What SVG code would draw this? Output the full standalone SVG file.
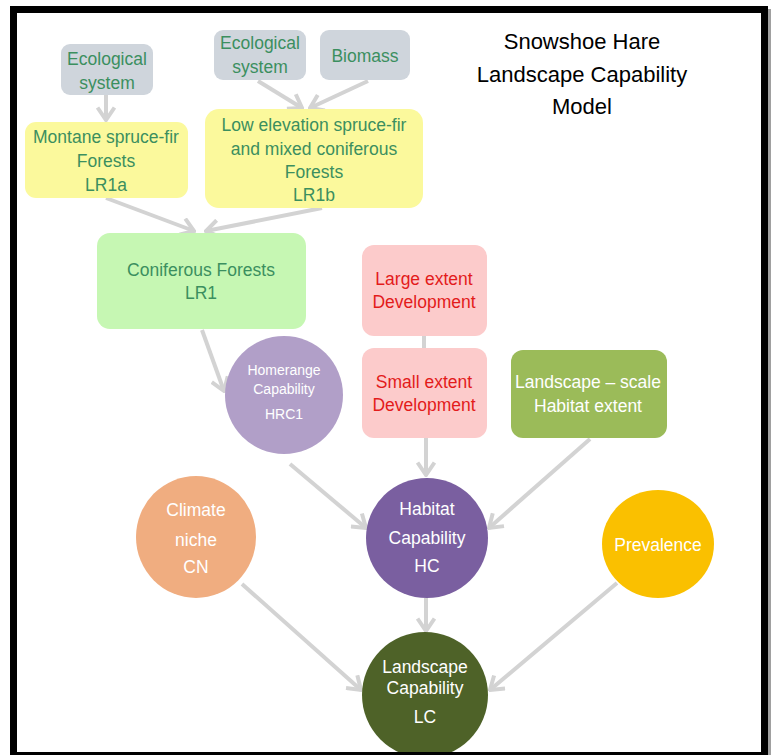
<svg xmlns="http://www.w3.org/2000/svg" width="771" height="755" viewBox="0 0 771 755">
<style>
text{font-family:"Liberation Sans",Arial,sans-serif;text-anchor:middle}
.t{font-size:17.5px}
.g{fill:#3b8f5f}
.r{fill:#e31b1b}
.w{fill:#ffffff}
.title{font-size:22px;fill:#000}
.con line{stroke:#d3d3d3;stroke-width:4;fill:none}
.arr{marker-end:url(#ah)}
</style>
<defs>
<marker id="ah" viewBox="0 0 16 20" markerWidth="16" markerHeight="20" refX="14" refY="10" orient="auto" markerUnits="userSpaceOnUse">
<path d="M1.5,1.5 L14,10 L1.5,18.5" fill="none" stroke="#d3d3d3" stroke-width="4"/>
</marker>
</defs>
<rect x="0" y="0" width="771" height="755" fill="#fff"/>
<rect x="767.5" y="9" width="3.5" height="746" fill="#a0a0a0"/>
<rect x="13.5" y="9.5" width="751" height="746" fill="#fff" stroke="#000" stroke-width="7"/>

<g id="connectors" class="con">
<line class="arr" x1="106" y1="95" x2="106" y2="120"/>
<line class="arr" x1="258" y1="81" x2="302" y2="108"/>
<line class="arr" x1="368" y1="81" x2="310" y2="108"/>
<line class="arr" x1="106" y1="198" x2="194" y2="231"/>
<line class="arr" x1="322" y1="208" x2="206" y2="231"/>
<line class="arr" x1="202" y1="330" x2="224" y2="391"/>
<line x1="424" y1="336" x2="424" y2="348"/>
<line class="arr" x1="290" y1="464" x2="366" y2="528"/>
<line class="arr" x1="426" y1="438" x2="426" y2="475"/>
<line class="arr" x1="590" y1="439" x2="489" y2="528"/>
<line class="arr" x1="242" y1="584" x2="361" y2="690"/>
<line class="arr" x1="426" y1="598" x2="426" y2="631"/>
<line class="arr" x1="617" y1="583" x2="490" y2="690"/>
</g>

<g id="title">
<text class="title" x="582" y="49">Snowshoe Hare</text>
<text class="title" x="582" y="82">Landscape Capability</text>
<text class="title" x="582" y="114">Model</text>
</g>

<g id="eco1">
<rect x="61" y="44" width="92" height="51" rx="9" fill="#cfd5dc"/>
<text class="t g" x="107" y="65">Ecological</text>
<text class="t g" x="107" y="89">system</text>
</g>
<g id="eco2">
<rect x="214" y="30" width="92" height="50" rx="9" fill="#cfd5dc"/>
<text class="t g" x="260" y="49">Ecological</text>
<text class="t g" x="260" y="73">system</text>
</g>
<g id="biomass">
<rect x="320" y="30" width="90" height="50" rx="9" fill="#cfd5dc"/>
<text class="t g" x="365" y="62">Biomass</text>
</g>
<g id="lr1a">
<rect x="25" y="122" width="163" height="76" rx="11" fill="#fbf99c"/>
<text class="t g" x="106" y="143">Montane spruce-fir</text>
<text class="t g" x="106" y="167">Forests</text>
<text class="t g" x="106" y="191">LR1a</text>
</g>
<g id="lr1b">
<rect x="205" y="109" width="218" height="99" rx="14" fill="#fbf99c"/>
<text class="t g" x="314" y="131">Low elevation spruce-fir</text>
<text class="t g" x="314" y="155">and mixed coniferous</text>
<text class="t g" x="314" y="178">Forests</text>
<text class="t g" x="314" y="201">LR1b</text>
</g>
<g id="lr1">
<rect x="97" y="233" width="209" height="96" rx="13" fill="#c6f7b3"/>
<text class="t g" x="201" y="276">Coniferous Forests</text>
<text class="t g" x="201" y="299">LR1</text>
</g>
<g id="large">
<rect x="362" y="245" width="125" height="91" rx="12" fill="#fccbcb"/>
<text class="t r" x="424" y="285">Large extent</text>
<text class="t r" x="424" y="308">Development</text>
</g>
<g id="small">
<rect x="362" y="348" width="125" height="90" rx="12" fill="#fccbcb"/>
<text class="t r" x="424" y="388">Small extent</text>
<text class="t r" x="424" y="411">Development</text>
</g>
<g id="hrc1">
<circle cx="284" cy="395" r="59" fill="#b19fc8"/>
<text class="w" style="font-size:14px" x="284" y="375">Homerange</text>
<text class="w" style="font-size:14px" x="284" y="394">Capability</text>
<text class="w" style="font-size:14px" x="284" y="419">HRC1</text>
</g>
<g id="lhe">
<rect x="511" y="350" width="156" height="88" rx="12" fill="#9bbb59"/>
<text class="t w" x="588" y="388">Landscape – scale</text>
<text class="t w" x="588" y="412">Habitat extent</text>
</g>
<g id="cn">
<ellipse cx="196" cy="537" rx="60" ry="61" fill="#f0ad80"/>
<text class="t w" x="196" y="516">Climate</text>
<text class="t w" x="196" y="546">niche</text>
<text class="t w" x="196" y="573">CN</text>
</g>
<g id="hc">
<ellipse cx="427" cy="538" rx="61" ry="60" fill="#7a5fa0"/>
<text class="t w" x="427" y="515">Habitat</text>
<text class="t w" x="427" y="544">Capability</text>
<text class="t w" x="427" y="572">HC</text>
</g>
<g id="prev">
<ellipse cx="658" cy="544" rx="56" ry="54" fill="#fac000"/>
<text class="t w" x="658" y="551">Prevalence</text>
</g>
<g id="lc">
<circle cx="425" cy="695" r="63" fill="#4e6228"/>
<text class="t w" x="425" y="673">Landscape</text>
<text class="t w" x="425" y="694">Capability</text>
<text class="t w" x="425" y="723">LC</text>
</g>
<rect x="10" y="752" width="758" height="3" fill="#000"/>
</svg>
